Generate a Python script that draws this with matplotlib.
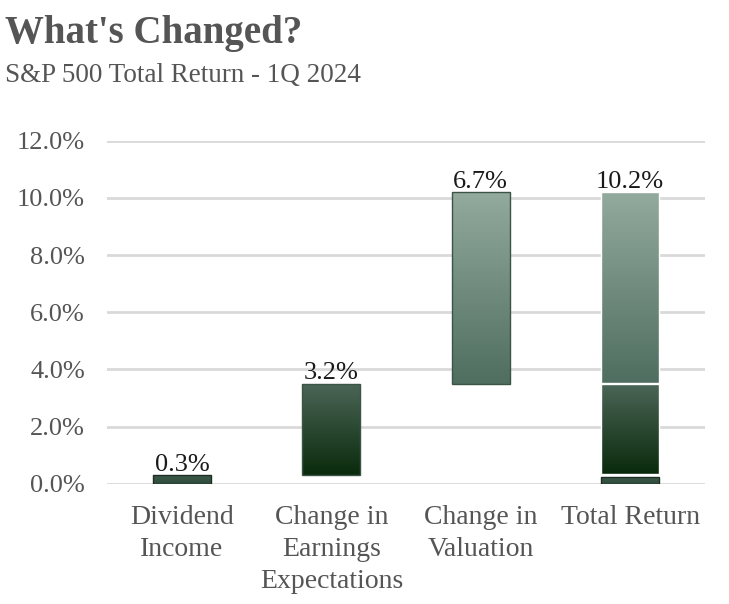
import numpy as np
import matplotlib
matplotlib.use("Agg")
from matplotlib import pyplot as plt
from matplotlib.colors import LinearSegmentedColormap

# data
categories = ["Dividend\nIncome", "Change in\nEarnings\nExpectations", "Change in\nValuation", "Total Return"]
values = [0.3, 3.2, 6.7, 10.2]
labels = ["0.3%", "3.2%", "6.7%", "10.2%"]
# segments for the stacked total bar
total_parts = [0.3, 3.2, 6.7]

plt.rcParams['font.family'] = ['Liberation Serif', 'DejaVu Serif']

fig = plt.figure(figsize=(7.29, 6.04), dpi=100)
ax = fig.add_axes([0.147, 0.199, 0.82, 0.568])

c_div = LinearSegmentedColormap.from_list("div", ["#2e4a3a", "#3d5a4a"])
c_earn = LinearSegmentedColormap.from_list("earn", ["#0a2a0c", "#4b6657"])
c_val = LinearSegmentedColormap.from_list("val", ["#4f6e60", "#93aa9e"])
cmaps = [c_div, c_earn, c_val]

grad = np.linspace(0, 1, 256).reshape(-1, 1)
width = 0.39


def grad_bar(x, bottom, h, cmap, edge):
    b = ax.bar(x, h, width, bottom=bottom, color="none", edgecolor=edge, linewidth=1, zorder=3)[0]
    im = ax.imshow(grad, extent=[x - width / 2, x + width / 2, bottom, bottom + h],
                   origin="lower", aspect="auto", cmap=cmap, zorder=2)
    im.set_clip_path(b)
    return b


# waterfall bars
bottoms = np.concatenate([[0], np.cumsum(values[:3])[:-1]])
for i in range(3):
    grad_bar(i, bottoms[i], values[i], cmaps[i], "#1f2e25" if i == 0 else "#3c5446")
    ax.text(i, bottoms[i] + values[i] - 0.02, labels[i], ha="center", va="bottom",
            fontsize=19, color="#1a1a1a")

# total bar, stacked with white gaps
tb = 0
for j, p in enumerate(total_parts):
    if j == 0:
        grad_bar(3, tb, p - 0.05, cmaps[j], "#1f2e25")
    else:
        grad_bar(3, tb + 0.04, p - 0.04, cmaps[j], "white")
    tb += p
ax.text(3, values[3] - 0.02, labels[3], ha="center", va="bottom", fontsize=19, color="#1a1a1a")

ax.set_xlim(-0.5, 3.5)
ax.set_ylim(0, 12)
ax.set_yticks(np.arange(0, 12.1, 2))
ax.set_yticklabels([f"{v:.1f}%" for v in np.arange(0, 12.1, 2)])
ax.set_xticks(range(4))
ax.set_xticklabels(categories, linespacing=1.38)
ax.tick_params(axis="both", length=0, labelsize=20, labelcolor="#555555")
ax.tick_params(axis="y", labelsize=19, pad=16)
ax.tick_params(axis="x", pad=15)
ax.yaxis.grid(True, color="#d9d9d9", linewidth=2, zorder=0)
ax.set_axisbelow(True)
for s in ax.spines.values():
    s.set_visible(False)

fig.text(0.007, 0.975, "What's Changed?", fontsize=28, fontweight="bold", color="#555555", va="top")
fig.text(0.007, 0.895, "S&P 500 Total Return - 1Q 2024", fontsize=19.5, color="#555555", va="top")

fig.savefig("out.png", dpi=100)
